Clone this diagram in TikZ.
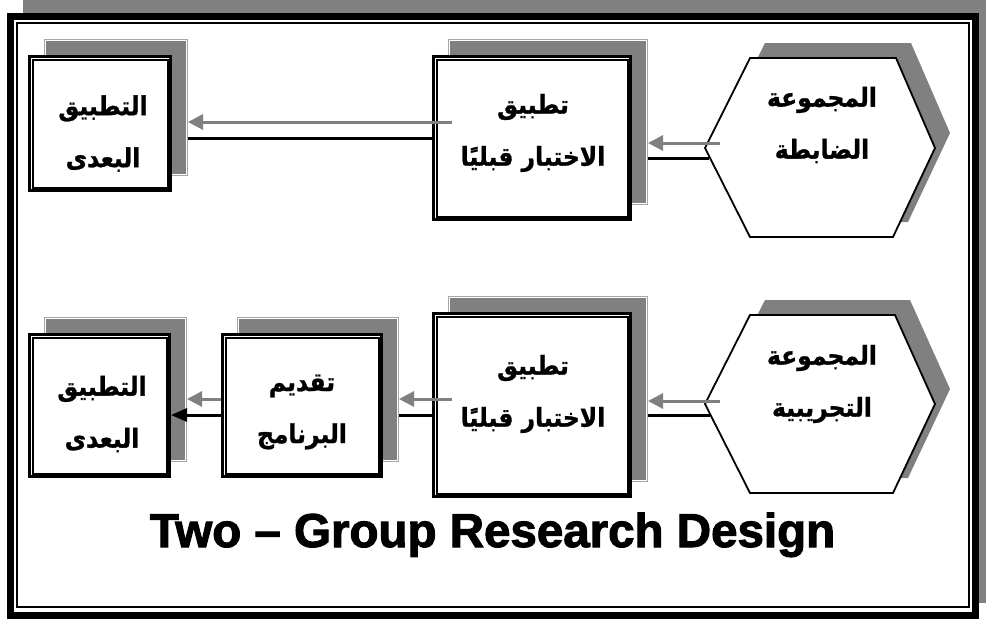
\documentclass[tikz,border=0pt]{standalone}
\usepackage{fontspec}
\usetikzlibrary{arrows.meta}
\TeXXeTstate=1
\newfontfamily\arfont[Script=Arabic,FakeStretch=0.9,BoldFeatures={FakeBold=1}]{DejaVu Sans}
\newfontfamily\titlefont[BoldFeatures={FakeBold=2.2}]{Liberation Sans}
\definecolor{shgray}{HTML}{808080}
\definecolor{shline}{HTML}{A6A6A6}
\tikzset{
  shadowbox/.style={draw=shline, line width=2pt, fill=shgray, inner sep=0pt},
  shadowinner/.style={draw=white, line width=1pt},
  frontbox/.style={draw=black, line width=3pt, fill=white, inner sep=0pt},
  frontinner/.style={draw=black, line width=2pt},
  hexshadow/.style={fill=shgray},
  hexfront/.style={draw=black, line width=1.8pt, fill=white, line join=miter},
  artext/.style={font=\arfont\bfseries\fontsize{26}{52}\selectfont, align=center, inner sep=0pt},
  titletext/.style={font=\titlefont\bfseries\fontsize{47.5}{50}\selectfont, inner sep=0pt},
  garrow/.style={draw=shgray, line width=3pt, -{Triangle[length=15pt,width=15pt]}},
  kline/.style={draw=black, line width=3pt},
  karrow/.style={draw=black, line width=3pt, -{Triangle[length=16pt,width=13pt]}},
}
\newcommand\mkbox[5]{%
  \node[shadowbox, minimum width=#4pt+1pt, minimum height=#5pt+1pt] (#1s) at (#2+16,#3-16) {};
  \draw[shadowinner] ([shift={(1.5,1.5)}]#1s.north west) rectangle ([shift={(-1.5,-1.5)}]#1s.south east);
  \node[frontbox, minimum width=#4pt, minimum height=#5pt] (#1) at (#2,#3) {};
  \draw[frontinner] ([shift={(4.5,4.5)}]#1.north west) rectangle ([shift={(-4.5,-4.5)}]#1.south east);
}
\begin{document}
\begin{tikzpicture}[x=1pt,y=-1pt]
\useasboundingbox (0,0) rectangle (986,621);
% frame
\fill[shgray] (23,0) rectangle (986,603);
\fill[white] (7,13) rectangle (979,619);
\draw[line width=7pt] (10.5,16.5) rectangle (975.5,615.5);
\draw[line width=2pt] (17,23) rectangle (969,607);
% boxes
\mkbox{b1}{100}{123.5}{141}{134}
\mkbox{b2}{532}{138}{197}{163}
\mkbox{b3}{99.5}{405.5}{140}{142}
\mkbox{b4}{302}{405.5}{159}{142}
\mkbox{b5}{532}{405}{197}{183}
% hexagons
\fill[hexshadow] (720,133) -- (765,43) -- (911,43) -- (950,133) -- (908,222) -- (765,222) -- cycle;
\draw[hexfront] (705,148) -- (750,58) -- (896,58) -- (935,148) -- (893,237) -- (750,237) -- cycle;
\coordinate (h1) at (705,148);
\fill[hexshadow] (720,389) -- (765,300) -- (910,300) -- (950,389) -- (908,478) -- (765,478) -- cycle;
\draw[hexfront] (705,404) -- (750,315) -- (895,315) -- (935,404) -- (893,493) -- (750,493) -- cycle;
\coordinate (h2) at (705,404);
% texts
\node[artext] (t1) at (103,133.5) {\beginR التطبيق\endR\\\beginR البعدى\endR};
\node[artext] (t2) at (533,133) {\beginR تطبيق\endR\\\beginR الاختبار قبليًا\endR};
\node[artext] (t3) at (822,125) {\beginR المجموعة\endR\\\beginR الضابطة\endR};
\node[artext] (t4) at (102,414) {\beginR التطبيق\endR\\\beginR البعدى\endR};
\node[artext] (t5) at (302,412) {\beginR تقديم\endR\\\beginR البرنامج\endR};
\node[artext] (t6) at (533,394) {\beginR تطبيق\endR\\\beginR الاختبار قبليًا\endR};
\node[artext] (t7) at (822,384) {\beginR المجموعة\endR\\\beginR التجريبية\endR};
\node[titletext, anchor=base] (title) at (492.5,547) {Two – Group Research Design};
% connectors top row
\coordinate (g1) at (720,143);
\coordinate (k1) at (709,158);
\draw[garrow] (g1) -- (g1 -| b2s.east);
\draw[kline] (k1) -- (k1 -| b2s.east);
\draw[garrow] ([xshift=4pt]b2s.west) -- (b2s.west -| b1s.east);
\draw[kline] (b2.west) -- (b2.west -| b1s.east);
% connectors bottom row
\coordinate (g2) at (720,401);
\coordinate (k2) at (710,415);
\coordinate (g3) at (452,399);
\draw[garrow] (g2) -- (g2 -| b5s.east);
\draw[kline] (k2) -- (k2 -| b5s.east);
\draw[garrow] (g3) -- (g3 -| b4s.east);
\draw[kline] (k2 -| b5.west) -- (k2 -| b4s.east);
\draw[garrow] (g3 -| b4.west) -- (g3 -| b3s.east);
\draw[karrow] (k2 -| b4.west) -- (k2 -| b3.east);
\end{tikzpicture}
\end{document}
